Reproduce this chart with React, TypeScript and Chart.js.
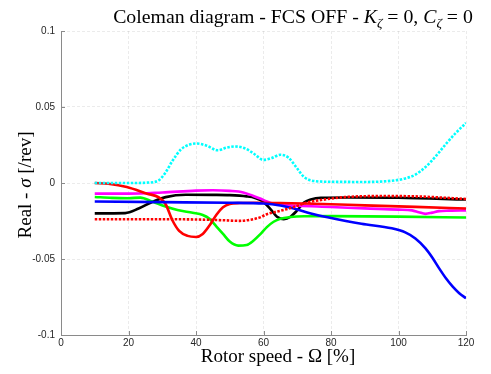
import React, { useEffect, useRef } from 'react';
import { Chart, registerables } from 'chart.js';

Chart.register(...registerables);

// ---------- data ----------
const xTicks = [0, 20, 40, 60, 80, 100, 120];
const yTicks = [-0.1, -0.05, 0, 0.05, 0.1];
const yTickLabels = ['-0.1', '-0.05', '0', '0.05', '0.1'];

const blackSpeed = [10, 19, 23, 27, 31, 37, 45, 50, 55, 57.5, 60, 62, 64, 66, 68, 70, 72, 74, 77, 85, 100, 120];
const blackReal = [-0.02, -0.0198, -0.0168, -0.0125, -0.0093, -0.0077, -0.0078, -0.008, -0.0088, -0.0098, -0.0124, -0.017, -0.0222, -0.0238, -0.0222, -0.018, -0.0128, -0.0108, -0.0097, -0.0095, -0.0097, -0.0109];

const greenSpeed = [10, 15, 20, 23.5, 27, 31, 34.5, 39, 42, 44, 46, 48, 50, 52.5, 55, 57, 59, 61, 63, 65, 68, 72, 80, 100, 120];
const greenReal = [-0.0092, -0.0098, -0.01, -0.0096, -0.0122, -0.0155, -0.0178, -0.0196, -0.021, -0.0235, -0.0285, -0.0335, -0.0385, -0.0412, -0.0408, -0.038, -0.0338, -0.029, -0.0255, -0.0235, -0.0224, -0.0219, -0.0218, -0.0221, -0.0227];

const magentaSpeed = [10, 20, 30, 40, 45, 50, 54, 57, 59, 61, 63, 66, 70, 80, 90, 100, 104, 106, 108, 110, 112, 115, 120];
const magentaReal = [-0.007, -0.007, -0.0062, -0.005, -0.0048, -0.0052, -0.0062, -0.0085, -0.0102, -0.0122, -0.0137, -0.0145, -0.015, -0.0158, -0.0167, -0.0175, -0.018, -0.0192, -0.0203, -0.0195, -0.0185, -0.0182, -0.018];

const redSpeed = [10, 14, 19.5, 25.5, 29, 31, 33, 35, 37.5, 40, 42, 44, 46, 48, 50, 53, 58, 65, 75, 90, 105, 120];
const redReal = [0, -0.0005, -0.0026, -0.007, -0.0095, -0.014, -0.0245, -0.0315, -0.0348, -0.0355, -0.0335, -0.028, -0.021, -0.016, -0.0138, -0.0132, -0.013, -0.0132, -0.0137, -0.0147, -0.0157, -0.0168];

const blueSpeed = [10, 30, 50, 60, 65, 69, 74, 79, 89, 98, 102, 105, 108, 110, 112, 114, 116, 118, 120];
const blueReal = [-0.0122, -0.0126, -0.013, -0.0135, -0.0148, -0.0168, -0.02, -0.0225, -0.0268, -0.0298, -0.0325, -0.0365, -0.043, -0.049, -0.056, -0.0625, -0.068, -0.0725, -0.0758];

const redDotSpeed = [10, 25, 40, 48, 53, 56, 59, 61, 65, 69, 73, 77, 84, 95, 105, 120];
const redDotReal = [-0.0238, -0.0238, -0.024, -0.0245, -0.0249, -0.0242, -0.0226, -0.0205, -0.0183, -0.0158, -0.0128, -0.0112, -0.0093, -0.0086, -0.0088, -0.0105];

const cyanSpeed = [10, 20, 26, 29, 31, 33, 35.5, 38, 40, 43, 46.5, 49, 51.5, 54.5, 57, 60, 62.5, 65, 67.5, 70, 72, 75, 80, 90, 98, 102, 105, 108, 111, 114, 117, 120];
const cyanReal = [0, 0, 0.0003, 0.0018, 0.007, 0.0145, 0.022, 0.0252, 0.026, 0.0247, 0.0215, 0.0232, 0.024, 0.0228, 0.0195, 0.0152, 0.0165, 0.0186, 0.0165, 0.0095, 0.004, 0.0013, 0.0008, 0.0007, 0.0015, 0.003, 0.0055, 0.0105, 0.0175, 0.0255, 0.033, 0.0395];

// ---------- helpers ----------
const zip = (xs: number[], ys: number[]) => xs.map((x, i) => ({ x, y: ys[i] }));

const SERIF = '"Liberation Serif", "Times New Roman", serif';
const SANS = '"Liberation Sans", Arial, sans-serif';

type Seg = { t: string; f: string; dy?: number };

function drawRich(ctx: CanvasRenderingContext2D, segs: Seg[], cx: number, cy: number) {
  let total = 0;
  for (const s of segs) { ctx.font = s.f; total += ctx.measureText(s.t).width; }
  let x = cx - total / 2;
  ctx.textAlign = 'left';
  ctx.textBaseline = 'alphabetic';
  for (const s of segs) {
    ctx.font = s.f;
    ctx.fillText(s.t, x, cy + (s.dy || 0));
    x += ctx.measureText(s.t).width;
  }
}

const labelPlugin = {
  id: 'mlabels',
  afterDraw(chart: any) {
    const ctx: CanvasRenderingContext2D = chart.ctx;
    const { left, bottom } = chart.chartArea;
    const xs = chart.scales.x;
    const ys = chart.scales.y;
    ctx.save();
    // inside tick marks (MATLAB style)
    ctx.strokeStyle = '#8a8a8a';
    ctx.lineWidth = 1;
    ctx.beginPath();
    for (const v of xTicks) {
      const px = Math.round(xs.getPixelForValue(v)) + 0.5;
      ctx.moveTo(px, bottom);
      ctx.lineTo(px, bottom - 4);
    }
    for (const v of yTicks) {
      const py = Math.round(ys.getPixelForValue(v)) + 0.5;
      ctx.moveTo(left, py);
      ctx.lineTo(left + 4, py);
    }
    ctx.stroke();

    ctx.fillStyle = '#000';
    const s = 19;
    const ts = 19.8;
    const sub = 13.5;
    // title
    drawRich(ctx, [
      { t: 'Coleman diagram - FCS OFF - ', f: `${ts}px ${SERIF}` },
      { t: 'K', f: `italic ${ts}px ${SERIF}` },
      { t: 'ζ', f: `italic ${sub}px ${SERIF}`, dy: 4 },
      { t: ' = 0, ', f: `${ts}px ${SERIF}` },
      { t: 'C', f: `italic ${ts}px ${SERIF}` },
      { t: 'ζ', f: `italic ${sub}px ${SERIF}`, dy: 4 },
      { t: ' = 0', f: `${ts}px ${SERIF}` },
    ], 293, 23);

    // x label
    drawRich(ctx, [
      { t: 'Rotor speed - Ω [%]', f: `${s}px ${SERIF}` },
    ], 278, 362);

    // y label
    ctx.translate(31, 185);
    ctx.rotate(-Math.PI / 2);
    drawRich(ctx, [
      { t: 'Real - ', f: `${s}px ${SERIF}` },
      { t: 'σ', f: `italic ${s}px ${SERIF}` },
      { t: ' [/rev]', f: `${s}px ${SERIF}` },
    ], 0, 0);
    ctx.restore();
  },
};

export default function App() {
  const ref = useRef<HTMLCanvasElement | null>(null);

  useEffect(() => {
    if (!ref.current) return;
    const mk = (label: string, xs: number[], ys: number[], color: string, dotted: boolean) => ({
      label,
      data: zip(xs, ys),
      borderColor: color,
      backgroundColor: color,
      borderWidth: 2.6,
      borderDash: dotted ? [2.5, 1.5] : [],
      pointRadius: 0,
      fill: false,
      cubicInterpolationMode: 'monotone' as const,
    });
    const chart = new Chart(ref.current, {
      type: 'line',
      data: {
        datasets: [
          mk('cyan', cyanSpeed, cyanReal, '#00ffff', true),
          mk('redDot', redDotSpeed, redDotReal, '#ff0000', true),
          mk('blue', blueSpeed, blueReal, '#0000ff', false),
          mk('red', redSpeed, redReal, '#ff0000', false),
          mk('magenta', magentaSpeed, magentaReal, '#ff00ff', false),
          mk('green', greenSpeed, greenReal, '#00ff00', false),
          mk('black', blackSpeed, blackReal, '#000000', false),
        ],
      },
      options: {
        animation: false,
        responsive: true,
        maintainAspectRatio: false,
        layout: { padding: { left: 16, right: 25, top: 31, bottom: 19 } },
        plugins: { legend: { display: false }, tooltip: { enabled: false }, title: { display: false } },
        scales: {
          x: {
            type: 'linear',
            min: 0,
            max: 120,
            afterBuildTicks: (scale: any) => { scale.ticks = xTicks.map((v) => ({ value: v })); },
            afterFit: (scale: any) => { scale.height = 20; },
            ticks: { font: { family: SANS, size: 10 }, color: '#262626', padding: 2, maxRotation: 0 },
            grid: { color: 'rgba(0,0,0,0.08)', drawTicks: false, lineWidth: 1 },
            border: { color: '#8a8a8a', width: 1, dash: [3, 2] },
          },
          y: {
            type: 'linear',
            min: -0.1,
            max: 0.1,
            afterBuildTicks: (scale: any) => { scale.ticks = yTicks.map((v) => ({ value: v })); },
            afterFit: (scale: any) => { scale.width = 45; },
            ticks: {
              font: { family: SANS, size: 10 },
              color: '#262626',
              padding: 6,
              callback: (v: any) => {
                const i = yTicks.findIndex((t) => Math.abs(t - Number(v)) < 1e-9);
                return i >= 0 ? yTickLabels[i] : '';
              },
            },
            grid: { color: 'rgba(0,0,0,0.08)', drawTicks: false, lineWidth: 1 },
            border: { color: '#8a8a8a', width: 1, dash: [3, 2] },
          },
        },
      },
      plugins: [labelPlugin],
    } as any);
    return () => chart.destroy();
  }, []);

  return (
    <div style={{ position: 'fixed', left: 0, top: 0, width: 491, height: 374, background: '#fff' }}>
      <canvas ref={ref} />
    </div>
  );
}
